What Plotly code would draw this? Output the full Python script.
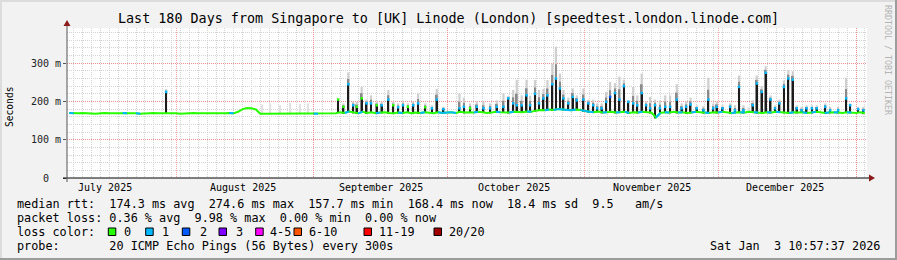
import numpy as np
import pandas as pd
import plotly.graph_objects as go

START = pd.Timestamp("2025-07-07 10:57:37")
END = pd.Timestamp("2026-01-03 10:57:37")

# daily median RTT (ms), day 0 = START
baseline_ms = [
    170, 169, 169, 170, 169, 169, 168, 169, 170, 169, 169, 169, 170, 169, 169, 169, 168, 169, 169, 170, 169, 169,
    170,
    169, 169, 168, 169, 169, 170, 169, 169, 169, 168, 169, 169, 169, 170, 169,
    173, 180, 183, 182, 179, 168,
    168, 168, 169, 168, 168, 169, 168, 168, 168, 169, 168, 168, 168, 169, 168, 168, 169,
    172, 170, 174, 171, 169, 173, 170, 172, 169, 171, 172, 170, 169, 171, 170, 172, 169, 171, 170, 172, 171, 169, 172, 170,
    171, 172, 170, 173, 171, 172, 171, 173, 172, 170, 171, 173, 172, 172, 171, 173, 172, 172, 174, 173,
    176, 178, 177, 179, 178, 180, 179, 178, 177, 179, 178,
    175, 173, 172, 174, 171, 172, 173, 171, 172, 173, 170, 172, 171, 173, 172, 171,
    158, 170, 172, 171, 173, 171, 172, 170, 171, 173, 172, 171, 170, 172, 171, 173,
    172, 170, 171, 172, 171, 173, 172, 171, 170, 172, 171, 173, 172, 171, 170, 172,
    171, 172, 170, 171, 173, 172, 170, 171, 172, 171, 170, 172, 171, 170, 172, 169,
]
# days whose median was measured with 1 of 20 pings lost
one_loss_days = [1, 13, 16, 37, 56, 63, 66, 70, 75, 80, 84, 85, 86, 87, 92, 97, 100, 104, 108,
                 110, 111, 112, 113, 114, 116, 117, 118, 121, 124, 126, 129, 133, 135, 138, 141,
                 144, 147, 150, 152, 155, 158, 160, 163, 166, 168, 171, 173, 176]

# latency spikes: day offset, median (ms), top of smoke (ms), lost pings
spike_day = [22.3, 43.9, 45.7, 47.9, 50.2, 52.4, 54.2,
             61.0, 62.2, 63.3, 64.4, 65.2, 66.3, 67.4, 68.4, 69.7, 70.8,
             72.3, 73.4, 74.5, 75.6, 76.7, 77.9, 79.0, 80.6, 82.1, 83.2,
             84.7, 88.3, 89.3, 90.7, 92.2, 93.7, 95.2, 96.7, 98.2, 99.3,
             100.4, 101.2, 102.3, 103.4, 104.2, 105.3, 106.2, 107.2, 108.1, 109.2,
             110.0, 110.9, 111.7, 112.8, 113.8, 114.7, 116.2, 117.3, 118.4, 119.3,
             120.3, 121.3, 122.2, 123.3, 124.3, 125.3, 126.3, 127.4, 128.3, 129.3,
             130.3, 131.2, 132.3, 133.4, 134.6, 135.7, 137.2, 138.3, 139.3, 140.3,
             141.7, 143.2, 144.3, 145.4, 146.2, 147.5, 149.2, 150.3, 151.2, 152.2,
             153.3, 154.3, 155.2, 156.3, 157.2, 158.3, 159.3, 160.3, 161.3, 162.3,
             163.3, 164.2, 165.3, 166.4, 167.6, 168.7, 170.6, 171.7, 173.5, 175.3,
             176.2, 178.0, 179.2]
spike_median_ms = [225, 170, 170, 170, 170, 170, 170,
                   205, 186, 245, 190, 186, 208, 195, 195, 190, 190,
                   205, 190, 185, 190, 186, 190, 195, 185, 182, 205,
                   180, 182, 186, 182, 186, 182, 182, 186, 186, 208,
                   195, 190, 190, 216, 190, 220, 195, 208, 216, 245,
                   260, 234, 208, 195, 212, 203, 205, 195, 190, 182,
                   182, 199, 212, 222, 205, 240, 199, 195, 190, 222,
                   190, 182, 190, 182, 186, 186, 205, 182, 186, 192,
                   182, 177, 205, 182, 186, 182, 186, 177, 238, 177,
                   173, 190, 247, 225, 275, 205, 182, 195, 238, 260,
                   257, 182, 177, 182, 182, 182, 186, 177, 177, 208,
                   190, 180, 177]
spike_smoke_ms = [232, 192, 195, 190, 196, 193, 195,
                  208, 195, 276, 200, 199, 238, 205, 216, 200, 199,
                  230, 200, 195, 200, 195, 200, 221, 195, 190, 233,
                  186, 221, 210, 195, 200, 200, 195, 203, 221, 215,
                  230, 257, 216, 257, 215, 256, 230, 233, 256, 299,
                  343, 273, 230, 210, 234, 216, 234, 205, 205, 195,
                  195, 225, 251, 248, 265, 257, 203, 238, 216, 273,
                  200, 212, 205, 203, 216, 216, 245, 195, 200, 210,
                  190, 188, 262, 195, 200, 190, 195, 190, 268, 190,
                  185, 203, 268, 240, 292, 216, 190, 205, 255, 282,
                  279, 190, 186, 190, 190, 190, 195, 186, 186, 262,
                  195, 186, 186]
spike_loss = [1, 0, 0, 0, 0, 0, 0,
              0, 0, 1, 1, 0, 0, 1, 1, 0, 1,
              1, 0, 1, 1, 0, 1, 1, 0, 1, 1,
              1, 1, 1, 0, 1, 1, 1, 1, 1, 1,
              1, 1, 1, 1, 1, 1, 1, 1, 1, 1,
              1, 1, 1, 1, 1, 1, 1, 1, 1, 1,
              1, 1, 2, 1, 1, 1, 1, 1, 1, 1,
              1, 1, 1, 1, 1, 1, 1, 1, 1, 1,
              1, 1, 1, 1, 1, 1, 1, 1, 1, 1,
              1, 1, 1, 1, 1, 1, 1, 1, 1, 1,
              1, 1, 1, 1, 1, 1, 1, 1, 1, 1,
              1, 1, 1]
assert len(baseline_ms) == 180
assert len(spike_day) == len(spike_median_ms) == len(spike_smoke_ms) == len(spike_loss)

month_starts = ["2025-08-01", "2025-09-01", "2025-10-01", "2025-11-01", "2025-12-01", "2026-01-01"]
month_label_pos = ["2025-07-16", "2025-08-16", "2025-09-16", "2025-10-16", "2025-11-16", "2025-12-16"]
month_labels = ["July 2025", "August 2025", "September 2025", "October 2025", "November 2025", "December 2025"]
y_tickvals = [0, 100, 200, 300]
y_ticktext = ["0\u00a0\u00a0", "100 m", "200 m", "300 m"]

loss_labels = ["0", "1", "2", "3", "4-5", "6-10", "11-19", "20/20"]
loss_colors = ["#26ff00", "#00b8ff", "#0059ff", "#7e00ff", "#ff00ff", "#ff5500", "#ff0000", "#a10000"]

title = "Last 180 Days from Singapore to [UK] Linode (London) [speedtest.london.linode.com]"
legend_lines = [
    "median rtt:  174.3 ms avg  274.6 ms max  157.7 ms min  168.4 ms now  18.4 ms sd  9.5   am/s",
    "packet loss: 0.36 % avg  9.98 % max  0.00 % min  0.00 % now",
]
probe_line = "probe:       20 ICMP Echo Pings (56 Bytes) every 300s"
stamp = "Sat Jan  3 10:57:37 2026"

# ---------------------------------------------------------------- layout helpers
W, H = 897, 260
L, R, T, B = 67, 867, 28, 178


def px(x):
    return (x - L) / (R - L)


def py(y):
    return (B - y) / (B - T)


def nb(s):
    return s.replace(" ", "\u00a0")


MONO = "DejaVu Sans Mono"
DAY_MS = 86400000

days = np.arange(180) + 0.5
base_x = START + pd.to_timedelta(days, unit="D")
base_y = np.array(baseline_ms, dtype=float)
loss_day = np.zeros(180, dtype=int)
loss_day[one_loss_days] = 1

sd = np.array(spike_day)
sx = START + pd.to_timedelta(sd, unit="D")
smed = np.array(spike_median_ms, dtype=float)
ssmoke = np.array(spike_smoke_ms, dtype=float)
sbase = base_y[np.clip(np.floor(sd).astype(int), 0, 179)] - 2
real = smed > sbase + 6
smid = smed + 0.45 * (ssmoke - smed)

fig = go.Figure()
fig.add_trace(go.Bar(x=sx, base=sbase, y=ssmoke - sbase, width=0.5 * DAY_MS,
                     marker=dict(color=["#cfcfcf" if r else "#e2e2e2" for r in real], line=dict(width=0)),
                     hoverinfo="skip"))
fig.add_trace(go.Bar(x=sx[real], base=sbase[real], y=(smid - sbase)[real], width=0.4 * DAY_MS,
                     marker=dict(color="#8a8a8a", line=dict(width=0)), hoverinfo="skip"))
fig.add_trace(go.Bar(x=sx[real], base=sbase[real], y=(smed - sbase)[real], width=0.3 * DAY_MS,
                     marker=dict(color="#1c1c1c", line=dict(width=0)), hoverinfo="skip"))

# median line coloured by loss
fig.add_trace(go.Scatter(x=base_x, y=base_y, mode="lines",
                         line=dict(color=loss_colors[0], width=2), hoverinfo="skip"))
bx, by = [], []
for i in range(179):
    if loss_day[i + 1] == 1:
        bx += [base_x[i], base_x[i + 1], None]
        by += [base_y[i], base_y[i + 1], None]
fig.add_trace(go.Scatter(x=bx, y=by, mode="lines", line=dict(color=loss_colors[1], width=2),
                         hoverinfo="skip"))
fig.add_trace(go.Scatter(x=sx[real], y=smed[real], mode="markers",
                         marker=dict(symbol="square", size=2.5,
                                     color=[loss_colors[k] for k, r in zip(spike_loss, real) if r],
                                     line=dict(width=0)), hoverinfo="skip"))

shapes = []
# frame
shapes.append(dict(type="rect", xref="paper", yref="paper", x0=px(0), x1=px(W), y0=py(0), y1=py(2),
                   fillcolor="#dcdcdc", line=dict(width=0), layer="below"))
shapes.append(dict(type="rect", xref="paper", yref="paper", x0=px(0), x1=px(2), y0=py(0), y1=py(H),
                   fillcolor="#dcdcdc", line=dict(width=0), layer="below"))
shapes.append(dict(type="rect", xref="paper", yref="paper", x0=px(0), x1=px(W), y0=py(H - 2), y1=py(H),
                   fillcolor="#9c9c9c", line=dict(width=0), layer="below"))
shapes.append(dict(type="rect", xref="paper", yref="paper", x0=px(W - 2), x1=px(W), y0=py(0), y1=py(H),
                   fillcolor="#9c9c9c", line=dict(width=0), layer="below"))
# axes
shapes.append(dict(type="line", xref="paper", yref="paper", x0=px(63), x1=px(870), y0=0, y1=0,
                   line=dict(color="#000000", width=1)))
shapes.append(dict(type="line", xref="paper", yref="paper", x0=0, x1=0, y0=py(182), y1=py(25),
                   line=dict(color="#555555", width=1)))
shapes.append(dict(type="path", xref="paper", yref="paper",
                   path=f"M {px(63.5)} {py(26)} L {px(70.5)} {py(26)} L {px(67)} {py(20)} Z",
                   fillcolor="#8b1a1a", line=dict(width=0)))
shapes.append(dict(type="path", xref="paper", yref="paper",
                   path=f"M {px(869)} {py(174.5)} L {px(869)} {py(181.5)} L {px(875)} {py(178)} Z",
                   fillcolor="#8b1a1a", line=dict(width=0)))
# loss colour boxes
box_x = [108.3, 145.7, 182.3, 219, 255.7, 294, 364, 434]
label_x = [122.7, 161, 198.7, 235, 269.3, 307.5, 378.3, 448]
for bxp, col in zip(box_x, loss_colors):
    shapes.append(dict(type="rect", xref="paper", yref="paper", x0=px(bxp), x1=px(bxp + 7.5),
                       y0=py(235.5), y1=py(228), fillcolor=col, line=dict(color="#000000", width=1)))

ann = []
ann.append(dict(text=nb(title), xref="paper", yref="paper", x=px(448.5), y=py(18), showarrow=False,
                xanchor="center", yanchor="middle", font=dict(family=MONO, size=13.4, color="#000")))
for i, line in enumerate(legend_lines):
    ann.append(dict(text=nb(line), xref="paper", yref="paper", x=px(15), y=py(204 + 14 * i),
                    showarrow=False, xanchor="left", yanchor="middle",
                    font=dict(family=MONO, size=11.8, color="#000")))
ann.append(dict(text=nb("loss color:"), xref="paper", yref="paper", x=px(15), y=py(232),
                showarrow=False, xanchor="left", yanchor="middle", font=dict(family=MONO, size=11.8, color="#000")))
for lx, lab in zip(label_x, loss_labels):
    ann.append(dict(text=lab, xref="paper", yref="paper", x=px(lx - 1), y=py(232),
                    showarrow=False, xanchor="left", yanchor="middle",
                    font=dict(family=MONO, size=11.8, color="#000")))
ann.append(dict(text=nb(probe_line), xref="paper", yref="paper", x=px(15), y=py(246),
                showarrow=False, xanchor="left", yanchor="middle", font=dict(family=MONO, size=11.8, color="#000")))
ann.append(dict(text=nb(stamp), xref="paper", yref="paper", x=px(882), y=py(246),
                showarrow=False, xanchor="right", yanchor="middle", font=dict(family=MONO, size=11.8, color="#000")))
for pos, lab in zip(month_label_pos, month_labels):
    ann.append(dict(text=nb(lab), xref="x", yref="paper", x=pos, y=py(187.5), showarrow=False,
                    xanchor="center", yanchor="middle", font=dict(family=MONO, size=10, color="#000")))
ann.append(dict(text="Seconds", xref="paper", yref="paper", x=px(10), y=py(107), showarrow=False,
                textangle=-90, xanchor="center", yanchor="middle", font=dict(family=MONO, size=9.6, color="#000")))
ann.append(dict(text=nb("RRDTOOL / TOBI OETIKER"), xref="paper", yref="paper", x=px(888), y=py(60),
                showarrow=False, textangle=90, xanchor="center", yanchor="middle",
                font=dict(family=MONO, size=8.3, color="#b4b4b4")))

fig.update_layout(
    width=W, height=H, margin=dict(l=L, r=W - R, t=T, b=H - B, autoexpand=False),
    paper_bgcolor="#f2f2f2", plot_bgcolor="#ffffff", showlegend=False, barmode="overlay",
    shapes=shapes, annotations=ann,
    xaxis=dict(type="date", range=[START, END], tickmode="array", tickvals=month_starts,
               showticklabels=False, ticks="", showgrid=True, gridcolor="rgba(255,90,90,0.55)",
               griddash="1px,1px", gridwidth=1, zeroline=False, showline=False,
               minor=dict(dtick=2 * DAY_MS, tick0="2025-07-07 00:00", showgrid=True,
                          gridcolor="#d4d4d4", griddash="1px,1px", gridwidth=1)),
    yaxis=dict(range=[0, 392], tickmode="array", tickvals=y_tickvals, ticktext=y_ticktext,
               ticks="outside", ticklen=3, tickcolor="#555555",
               tickfont=dict(family=MONO, size=10, color="#222"),
               showgrid=True, gridcolor="rgba(255,90,90,0.55)", griddash="1px,1px", gridwidth=1,
               zeroline=False, showline=False,
               minor=dict(dtick=20, showgrid=True, gridcolor="#d4d4d4", griddash="1px,1px", gridwidth=1)),
)

fig.write_html("out.html")
